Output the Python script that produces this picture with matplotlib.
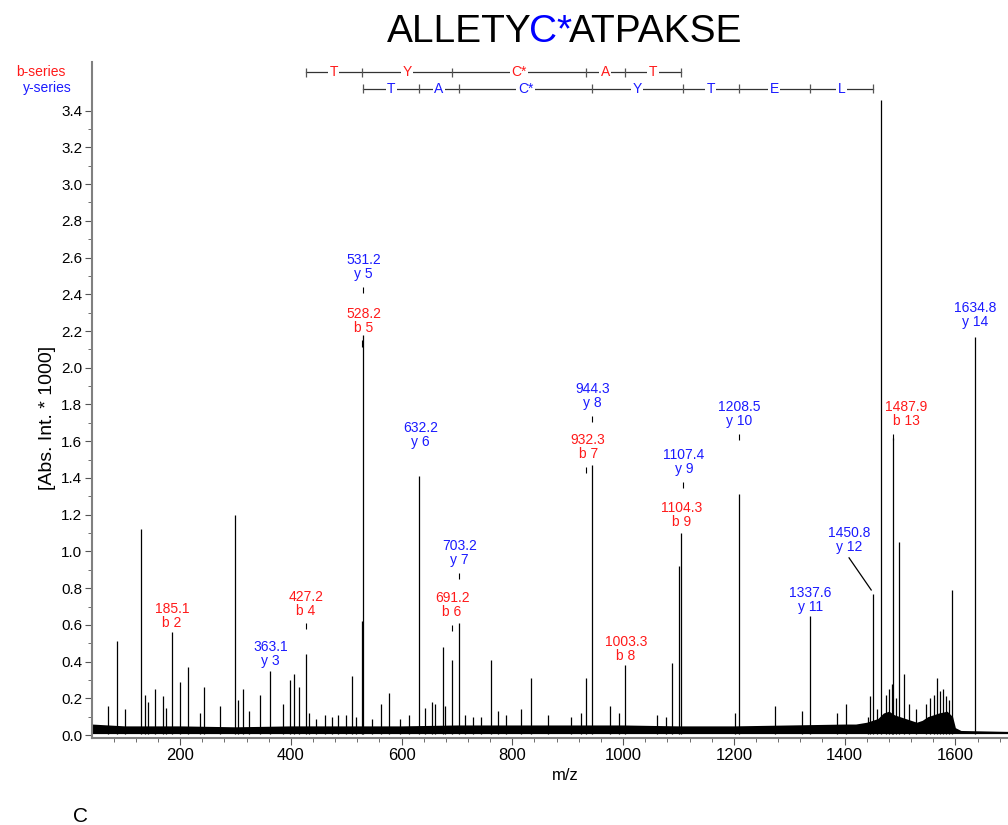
import matplotlib
matplotlib.use("Agg")
import matplotlib.pyplot as plt
from matplotlib.ticker import MultipleLocator, FixedLocator, FormatStrFormatter

plt.rcParams['font.family'] = ['Liberation Sans', 'DejaVu Sans']

RED = '#ff1a1a'
BLUE = '#1a1aff'

# main peaks (m/z, intensity *1000)
peak_mz = [70, 86.7, 100.6, 130, 136.8, 142, 155, 170, 174, 185.1, 200, 215, 236, 244,
           272, 299, 305, 314, 325, 345, 363.1, 385, 399, 406, 415, 427.2, 433, 445,
           462, 475, 486, 500, 511, 517, 528.2, 531.2, 547, 562, 578, 598, 614, 632.2,
           642, 655, 661, 674, 679, 691.2, 703.2, 714, 729, 744, 762, 775, 788,
           815, 833, 865, 906, 924, 932.3, 944.3, 977, 993, 1003.3, 1062, 1077, 1088,
           1101.5, 1104.3, 1202, 1208.5, 1275, 1323, 1337.6, 1387, 1403, 1442, 1446, 1450.8,
           1458, 1466, 1475, 1481, 1486, 1487.9, 1492, 1498, 1508, 1516, 1529, 1547, 1555,
           1561, 1567, 1572, 1577, 1583, 1588, 1594, 1634.8]
peak_int = [0.16, 0.51, 0.14, 1.12, 0.22, 0.18, 0.25, 0.21, 0.15, 0.56, 0.29, 0.37, 0.12, 0.26,
            0.16, 1.20, 0.19, 0.25, 0.13, 0.22, 0.35, 0.17, 0.30, 0.33, 0.26, 0.44, 0.12, 0.09,
            0.11, 0.10, 0.11, 0.11, 0.32, 0.10, 0.62, 2.18, 0.09, 0.17, 0.23, 0.09, 0.11, 1.41,
            0.15, 0.18, 0.17, 0.48, 0.16, 0.41, 0.61, 0.11, 0.10, 0.10, 0.41, 0.13, 0.11,
            0.14, 0.31, 0.11, 0.10, 0.12, 0.31, 1.47, 0.16, 0.12, 0.38, 0.11, 0.10, 0.39,
            0.92, 1.10, 0.12, 1.31, 0.16, 0.13, 0.65, 0.12, 0.17, 0.10, 0.21, 0.77,
            0.14, 3.46, 0.22, 0.25, 0.28, 1.62, 0.20, 1.05, 0.33, 0.17, 0.14, 0.17, 0.20,
            0.22, 0.31, 0.24, 0.25, 0.21, 0.19, 0.79, 2.17]

# noise floor envelope
noise_mz = [41, 100, 200, 300, 400, 500, 600, 700, 800, 900, 1000, 1100, 1200, 1300, 1400,
            1420, 1440, 1460, 1470, 1480, 1490, 1500, 1510, 1520, 1530, 1540, 1550, 1560,
            1570, 1585, 1595, 1600, 1610, 1695]
noise_hi = [0.06, 0.05, 0.05, 0.045, 0.05, 0.05, 0.05, 0.055, 0.055, 0.055, 0.055, 0.05, 0.05,
            0.055, 0.06, 0.06, 0.07, 0.09, 0.12, 0.13, 0.11, 0.10, 0.09, 0.08, 0.07, 0.08, 0.10,
            0.11, 0.12, 0.13, 0.10, 0.04, 0.025, 0.02]

# annotated fragment ions
ann_mz = [185.1, 363.1, 427.2, 528.2, 531.2, 632.2, 691.2, 703.2, 932.3, 944.3, 1003.3,
          1104.3, 1107.4, 1208.5, 1337.6, 1450.8, 1487.9, 1634.8]
ann_ion = ['b 2', 'y 3', 'b 4', 'b 5', 'y 5', 'y 6', 'b 6', 'y 7', 'b 7', 'y 8', 'b 8',
           'b 9', 'y 9', 'y 10', 'y 11', 'y 12', 'b 13', 'y 14']
ann_x = [185.1, 363.1, 427.2, 531.2, 531.2, 634, 691.2, 705, 937, 944.3, 1005,
         1106, 1110, 1210, 1337.6, 1408, 1511, 1636]
ann_y = [0.57, 0.365, 0.64, 2.18, 2.47, 1.56, 0.63, 0.915, 1.49, 1.77, 0.39,
         1.12, 1.41, 1.67, 0.66, 0.985, 1.67, 2.21]
ann_tick = [False, False, True, True, True, False, True, True, True, True, False,
            False, True, True, False, False, True, False]

# sequence ladders
b_bounds = [427.2, 528.2, 691.2, 932.3, 1003.3, 1104.3]
b_res = ['T', 'Y', 'C*', 'A', 'T']
y_bounds = [531.2, 632.2, 703.2, 944.3, 1107.4, 1208.5, 1337.6, 1450.8]
y_res = ['T', 'A', 'C*', 'Y', 'T', 'E', 'L']

fig = plt.figure(figsize=(10.08, 8.25), dpi=100)
ax = fig.add_axes([92 / 1008, 1 - 738 / 825, 1 - 92 / 1008, (738 - 62) / 825])

ax.fill_between(noise_mz, 0.008, noise_hi, color='black', lw=0)
ax.vlines(peak_mz, 0.008, peak_int, color='black', lw=0.9)

for mz, tx, ion, y, tk in zip(ann_mz, ann_x, ann_ion, ann_y, ann_tick):
    c = RED if ion.startswith('b') else BLUE
    if ion == 'y 12':
        ax.plot([1408, 1448], [0.965, 0.79], color='black', lw=0.9)
    ax.text(tx, y, f"{mz:.1f}\n{ion}", color=c, ha='center', va='bottom',
            fontsize=10, linespacing=1.0)
    if tk:
        ax.vlines(mz, y - 0.065, y - 0.03, color='black', lw=0.8)


def ladder(bounds, res, yv, color):
    ax.plot([bounds[0], bounds[-1]], [yv, yv], color='#333333', lw=0.9)
    ax.vlines(bounds, yv - 0.025, yv + 0.025, color='#555555', lw=0.9)
    for i, r in enumerate(res):
        ax.text((bounds[i] + bounds[i + 1]) / 2, yv, r, color=color, fontsize=10,
                ha='center', va='center',
                bbox=dict(facecolor='white', edgecolor='none', pad=1.0))


ladder(b_bounds, b_res, 3.61, RED)
ladder(y_bounds, y_res, 3.52, BLUE)

ax.set_xlim(41, 1695)
ax.set_ylim(-0.016, 3.665)
ax.xaxis.set_major_locator(MultipleLocator(200))
ax.xaxis.set_minor_locator(MultipleLocator(40))
ax.yaxis.set_major_locator(FixedLocator([i * 0.2 for i in range(18)]))
ax.yaxis.set_minor_locator(FixedLocator([i * 0.2 + 0.1 for i in range(17)]))
ax.yaxis.set_major_formatter(FormatStrFormatter('%.1f'))
for s in ['top', 'right']:
    ax.spines[s].set_visible(False)
for s in ['left', 'bottom']:
    ax.spines[s].set_color('#808080')
    ax.spines[s].set_linewidth(1.5)
ax.tick_params(which='major', length=5, color='#555555', labelsize=11, pad=2)
ax.tick_params(which='minor', length=3, color='#555555')
for lab in ax.get_xticklabels():
    lab.set_family(['Liberation Sans Narrow', 'Liberation Sans'])
    lab.set_fontsize(12)

fig.text(66 / 1008, 1 - 72 / 825, 'b-series', color=RED, fontsize=10, ha='right', va='center')
fig.text(72 / 1008, 1 - 88 / 825, 'y-series', color=BLUE, fontsize=10, ha='right', va='center')
fig.text(48 / 1008, 1 - 418 / 825, '[Abs. Int. * 1000]', rotation=90, fontsize=14,
         ha='center', va='center')
fig.text(565 / 1008, 1 - 775 / 825, 'm/z', fontsize=12, ha='center', va='center',
         family=['Liberation Sans Narrow', 'Liberation Sans'])
fig.text(80 / 1008, 1 - 816 / 825, 'C', fontsize=15, ha='center', va='center',
         family=['Liberation Sans Narrow', 'Liberation Sans'])

# title with the modified cysteine in blue, pieces laid side by side
title_parts = [('ALLETY', 'black'), ('C*', 'blue'), ('ATPAKSE', 'black')]
renderer = fig.canvas.get_renderer()
pieces = []
x0 = 0
for txt, col in title_parts:
    t = fig.text(x0 / 1008, 1 - 32 / 825, txt, color=col, fontsize=28, ha='left', va='center')
    bb = t.get_window_extent(renderer)
    pieces.append(t)
    x0 = bb.x1 - 3
total = x0 + 3
shift = 564.5 - total / 2
for t in pieces:
    px, py = t.get_position()
    t.set_position((px + shift / 1008, py))

fig.savefig('out.png', dpi=100)
